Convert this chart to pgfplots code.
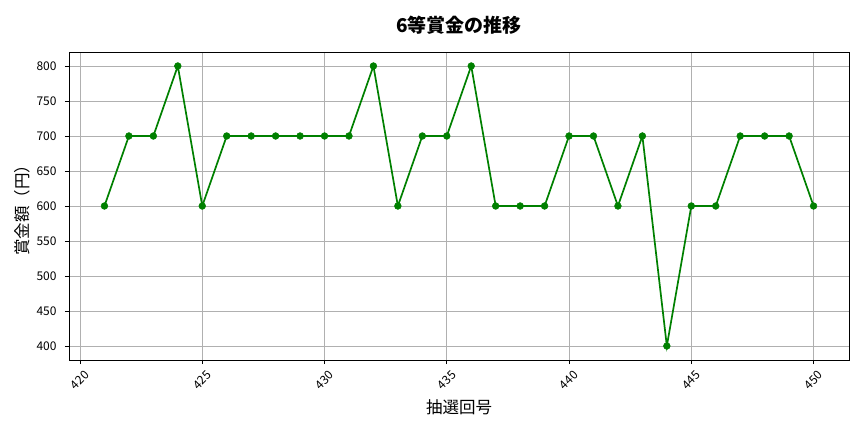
\documentclass[border=0pt]{standalone}
\usepackage{fontspec}
\setmainfont{Noto Sans CJK JP}
\usepackage{pgfplots}
\pgfplotsset{compat=1.18}
\definecolor{mplgreen}{HTML}{008000}
\definecolor{gridgray}{HTML}{B0B0B0}

\begin{document}
\begin{tikzpicture}
\useasboundingbox (-69bp,-72bp) rectangle (795bp,360bp);
\begin{axis}[
    at={(0,0)}, anchor=south west,
    scale only axis,
    width=780bp, height=308bp,
    xmin=419.55, xmax=451.45,
    ymin=380, ymax=820,
    xtick={420,425,...,450},
    ytick={400,450,...,800},
    xtick pos=left, ytick pos=left,
    tick align=outside,
    major tick length=4bp,
    every tick/.style={black, line width=0.92bp},
    axis line style={black, line width=0.92bp},
    grid=major,
    major grid style={gridgray, line width=0.92bp},
    /pgf/number format/assume math mode=true,
    /pgf/number format/1000 sep={},
    tick label style={font=\fontsize{12bp}{13bp}\selectfont, inner sep=0pt},
    xticklabel style={rotate=45, anchor=center, xshift=-11.5bp, yshift=-11.5bp},
    yticklabel style={anchor=east, xshift=-8.3bp},
    title={\bfseries 6等賞金の推移},
    title style={font=\fontsize{19bp}{22bp}\selectfont, at={(0.5,1)}, anchor=base, yshift=14bp},
    xlabel={抽選回号},
    ylabel={賞金額（円）},
    label style={font=\fontsize{16.5bp}{19bp}\selectfont},
    xlabel style={at={(0.5,0)}, anchor=center, yshift=-47bp},
    ylabel style={at={(0,0.5)}, anchor=center, yshift=47bp},
]
\addplot[mplgreen, line width=1.7bp, mark=*, mark size=3.4bp,
         mark options={fill=mplgreen, draw=mplgreen, line width=0.5bp}] coordinates {
    (421,600) (422,700) (423,700) (424,800) (425,600)
    (426,700) (427,700) (428,700) (429,700) (430,700)
    (431,700) (432,800) (433,600) (434,700) (435,700)
    (436,800) (437,600) (438,600) (439,600) (440,700)
    (441,700) (442,600) (443,700) (444,400) (445,600)
    (446,600) (447,700) (448,700) (449,700) (450,600)
};
\end{axis}
\end{tikzpicture}
\end{document}
